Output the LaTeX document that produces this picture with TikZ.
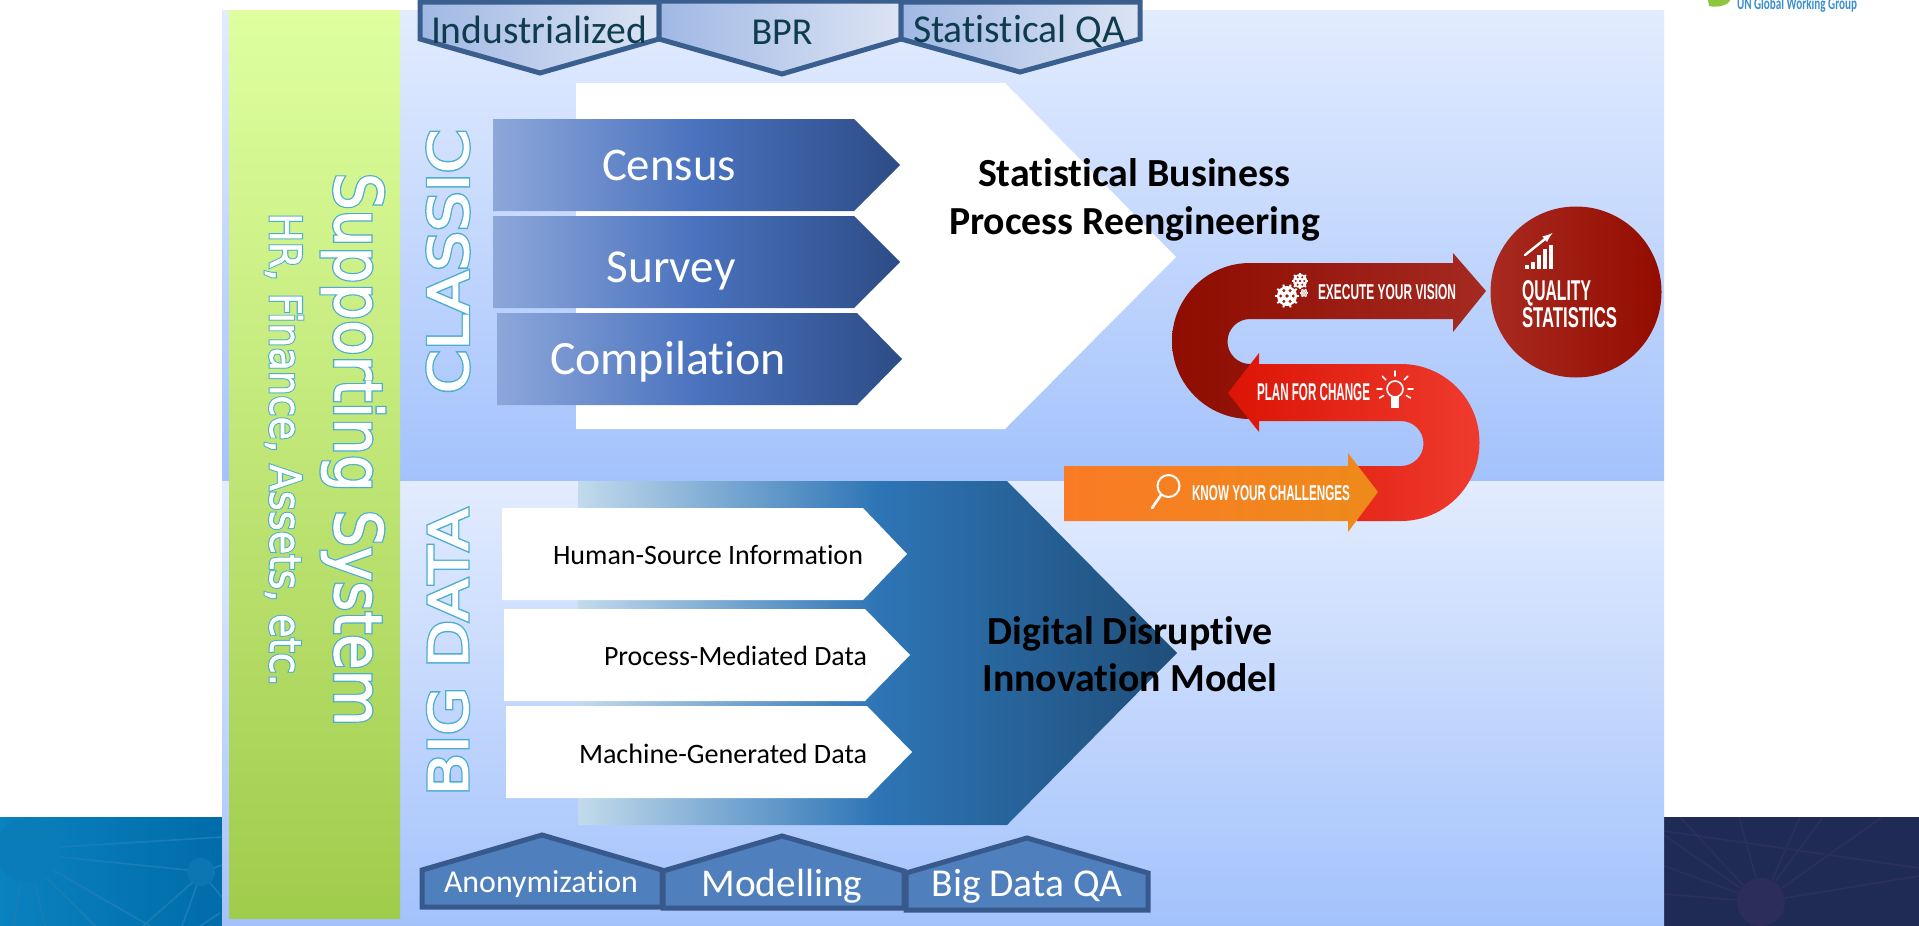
\documentclass[tikz,border=0pt]{standalone}
\usepackage{fontspec}
\usepackage{graphicx}
\setmainfont{Carlito}[Ligatures=NoCommon]
\newfontfamily\dej{DejaVu Sans}
\newfontfamily\lib{Liberation Sans}
\newcommand{\dc}[1]{\definecolor{#1}{HTML}{#1}}
\dc{0A82BF}\dc{006CA9}\dc{0A7DB9}\dc{0A77B3}\dc{1F2A55}\dc{2C2D58}\dc{8CC63F}\dc{3B8FD0}\dc{DFFF9F}\dc{A0CC4C}\dc{C2DAEC}\dc{2E75B6}\dc{1F4E79}\dc{8E0C00}\dc{A52A22}\dc{DC1405}\dc{EE3B2E}\dc{FA7B26}\dc{EE8A1A}\dc{A82A20}\dc{940C00}\dc{9A1C12}\dc{0F3B4E}
\dc{A0B8E4}\dc{DCE4F4}
\definecolor{panT}{HTML}{E3ECFE}
\definecolor{panB}{HTML}{A3C2FC}
\definecolor{navyline}{HTML}{3A5F8F}
\definecolor{B4F7FBC}{HTML}{4F7FBC}
\definecolor{B38598C}{HTML}{38598C}
\definecolor{B8DA7DA}{HTML}{8DA7DA}
\definecolor{B4A72BE}{HTML}{4A72BE}
\definecolor{B2D4C86}{HTML}{2D4C86}
\definecolor{LBL}{HTML}{1A7DB6}
\definecolor{RBL}{HTML}{2C2F5C}
\newcommand{\outl}[3]{\rlap{\special{pdf:code q 2 Tr #1 w .286 .682 .812 RG .286 .682 .812 rg}#3\special{pdf:code Q}}\special{pdf:code q 2 Tr #2 w 1 1 1 RG 1 1 1 rg}#3\special{pdf:code Q}}
\newcommand{\fitw}[3][40]{\resizebox{#2pt}{!}{\fontsize{#1}{#1}\selectfont #3}}
\newcommand{\fitb}[3]{\resizebox{#1pt}{#2pt}{\lib\bfseries\fontsize{20}{20}\selectfont #3}}
\tikzset{
  panel/.style={top color=panT,bottom color=panB,draw=none},
  lbl/.style={inner sep=0pt,outer sep=0pt,anchor=center},
  topshape/.style={left color=A0B8E4,right color=DCE4F4,draw=navyline,line width=5pt,line join=miter},
  botshape/.style={fill=B4F7FBC,draw=B38598C,line width=5pt,line join=miter},
  bluearrow/.style={left color=B8DA7DA,right color=B2D4C86,middle color=B4A72BE,draw=none},
  whitearrow/.style={fill=white,draw=none},
  iconl/.style={draw=white,line width=2pt,line cap=round},
  bgl/.style={draw=LBL,line width=1.6pt},
  bgr/.style={draw=RBL,line width=1.6pt},
}
\begin{document}
\begin{tikzpicture}[x=1pt,y=-1pt]
\useasboundingbox (0,0) rectangle (1919,926);
\fill[white] (0,0) rectangle (1919,926);
% corner pictures
\begin{scope}
\clip (0,817) rectangle (222,926);
\shade[left color=0A82BF,right color=006CA9] (0,817) rectangle (222,926);
\fill[0A7DB9] (28,850) circle[radius=32pt];
\fill[0A77B3] (201,872) circle[radius=14pt];
\draw[bgl] (60,847)--(222,837); \draw[bgl] (60,857)--(187,870);
\draw[bgl] (53,870)--(150,926); \draw[bgl] (47,878)--(95,926);
\draw[bgl] (35,883)--(45,926); \draw[bgl] (20,885)--(14,926);
\draw[bgl] (193,882)--(143,926); \draw[bgl] (197,885)--(182,926);
\draw[bgl] (210,883)--(222,897); \draw[bgl] (220,913)--(200,926);
\draw[bgl] (213,868)--(222,865);
\end{scope}
\begin{scope}
\clip (1664,817) rectangle (1919,926);
\fill[1F2A55] (1664,817) rectangle (1919,926);
\draw[bgr] (1664,831)--(1919,868); \draw[bgr] (1680,817)--(1743,885);
\draw[bgr] (1664,835)--(1740,888); \draw[bgr] (1664,866)--(1738,893);
\draw[bgr] (1664,894)--(1737,900); \draw[bgr] (1739,817)--(1756,878);
\draw[bgr] (1800,817)--(1772,880); \draw[bgr] (1823,817)--(1775,882);
\draw[bgr] (1882,817)--(1782,888); \draw[bgr] (1785,898)--(1919,876);
\fill[2C2D58] (1761,902) circle[radius=24pt];
\end{scope}
% logo
\fill[8CC63F] (1708,0) -- (1730,0) .. controls (1729,5) and (1718,8) .. (1709,6) -- cycle;
\node[lbl,text=3B8FD0] (logo) at (1797,5) {\resizebox{120pt}{12pt}{\bfseries UN Global Working Group}};
% panels
\path[panel] (222,10) rectangle (1664,481);
\path[panel] (222,481) rectangle (1664,926);
\path[top color=DFFF9F,bottom color=A0CC4C] (229,10) rectangle (400,918);
% classic big arrow
\fill[white] (576,83) -- (1005,83) -- (1176,257) -- (1005,429) -- (576,429) -- cycle;
\path[bluearrow] (493,119) -- (854,119) -- (900,165) -- (854,211) -- (493,211) -- cycle;
\path[bluearrow] (493,216) -- (854,216) -- (900,262) -- (854,308) -- (493,308) -- cycle;
\path[bluearrow] (497,313) -- (857,313) -- (902,359) -- (857,405) -- (497,405) -- cycle;
% big data big arrow
\path[left color=C2DAEC,right color=1F4E79,middle color=2E75B6] (578,481) -- (1007,481) -- (1177,653) -- (1007,825) -- (578,825) -- cycle;
\path[whitearrow] (502,508) -- (863,508) -- (907,554) -- (863,600) -- (502,600) -- cycle;
\path[whitearrow] (504,609) -- (865,609) -- (910,655) -- (865,701) -- (504,701) -- cycle;
\path[whitearrow] (506,706) -- (867,706) -- (912,752) -- (867,798) -- (506,798) -- cycle;
% top pentagons
\path[topshape] (420,2) -- (659,2) -- (659,39) -- (540,73) -- (420,39) -- cycle;
\path[topshape] (659,1) -- (901,1) -- (901,39) -- (782,74) -- (659,39) -- cycle;
\path[topshape] (901,2) -- (1140,2) -- (1140,39) -- (1020,72) -- (901,39) -- cycle;
% bottom houses
\path[botshape] (422,907) -- (422,870) -- (542,835) -- (662,870) -- (662,907) -- cycle;
\path[botshape] (663,908) -- (663,871) -- (782,836) -- (904,871) -- (904,908) -- cycle;
\path[botshape] (906,910) -- (906,873) -- (1027,838) -- (1148,873) -- (1148,910) -- cycle;
% S band
\path[left color=8E0C00,right color=A52A22] (1453,263) -- (1250,263) arc[start angle=90,end angle=270,radius=78pt] -- (1250,364) arc[start angle=270,end angle=90,radius=22.5pt] -- (1453,319) -- (1453,332) -- (1486,291) -- (1453,253) -- cycle;
\path[left color=DC1405,right color=EE3B2E] (1401,364) arc[start angle=90,end angle=-90,radius=78.5pt] -- (1357,521) -- (1357,466) -- (1401,466) arc[start angle=-90,end angle=90,radius=22.5pt] -- (1259,421) -- (1259,432) -- (1228,393) -- (1259,353) -- (1259,364) -- cycle;
\path[left color=FA7B26,right color=EE8A1A] (1064,466) -- (1348,466) -- (1348,453) -- (1378,492) -- (1348,532) -- (1348,521) -- (1064,521) -- cycle;
\path[left color=A82A20,right color=940C00] (1576,292) circle[radius=85.5pt];
% gears
\foreach \cx/\cy/\r/\n in {1287/296/10/10,1300/281/7/8,1304/293/3.5/6}{
  \begin{scope}[shift={(\cx,\cy)}]
    \fill[white] (0,0) circle[radius=\r pt];
    \foreach \k in {1,...,\n}{\draw[white,line width=2pt] (360*\k/\n:\r*0.8) -- (360*\k/\n:\r*1.2);}
    \foreach \k in {1,...,6}{\fill[9A1C12] (60*\k:\r*0.62) circle[radius=\r*0.16pt];}
    \fill[9A1C12] (0,0) circle[radius=\r*0.18pt];
  \end{scope}}
% bulb
\draw[iconl,line width=1.6pt] (1395,389) circle[radius=8pt];
\fill[white] (1391,397) rectangle (1399,408);
\foreach \a in {-90,-45,-135,0,180,30,150}{
  \draw[iconl,line width=1.5pt] ([shift={(\a:13)}]1395,389) -- ([shift={(\a:18)}]1395,389);}
% magnifier
\draw[iconl] (1168.5,486) circle[radius=11pt];
\draw[iconl,line width=2.6pt] (1161,495) -- (1152,508);
% chart
\foreach \bx/\by in {1527/265,1533/262,1539/255,1545/249,1551/245}{
  \fill[white] (\bx-2.2,\by) rectangle (\bx+2.2,269);}
\draw[iconl,line width=2.4pt,-latex] (1525,255) -- (1552.5,233);
% texts
\node[lbl,text=0F3B4E] (t1) at (539,30) {\fitw{216}{Industrialized}};
\node[lbl,text=0F3B4E] (t2) at (782,32) {\fitw{61}{BPR}};
\node[lbl,text=0F3B4E] (t3) at (1019,31) {\fitw{212}{Statistical QA}};
\node[lbl,text=white] (c1) at (669,165) {\fitw{134}{Census}};
\node[lbl,text=white] (c2) at (671,270.5) {\fitw{129}{Survey}};
\node[lbl,text=white] (c3) at (668,361.5) {\fitw{236}{Compilation}};
\node[lbl] (sb1) at (1134,173) {\fitw{312}{\bfseries Statistical Business}};
\node[lbl] (sb2) at (1134.5,224) {\fitw{371}{\bfseries Process Reengineering}};
\node[lbl] (d1) at (1130,634) {\fitw{285}{\bfseries Digital Disruptive}};
\node[lbl] (d2) at (1130,678) {\fitw{295}{\bfseries Innovation Model}};
\node[lbl] (h1) at (708,555) {\fitw{310}{Human-Source Information}};
\node[lbl] (h2) at (735.5,656) {\fitw{263}{Process-Mediated Data}};
\node[lbl] (h3) at (723,754) {\fitw{288}{Machine-Generated Data}};
\node[lbl,text=white] (b1) at (541,884) {\fitw{194}{Anonymization}};
\node[lbl,text=white] (b2) at (782,886) {\fitw{161}{Modelling}};
\node[lbl,text=white] (b3) at (1027,886) {\fitw{191}{Big Data QA}};
% outlined
\node[lbl,rotate=90] (classic) at (448,261.5) {\resizebox{264pt}{41pt}{\dej\fontsize{60}{60}\selectfont\outl{4.2}{1.4}{CLASSIC}}};
\node[lbl,rotate=90] (bigdata) at (448,652) {\resizebox{287pt}{40pt}{\dej\fontsize{60}{60}\selectfont\outl{4.2}{1.4}{BIG DATA}}};
\node[lbl,rotate=-90] (sup) at (353,449.5) {\resizebox{553pt}{50pt}{\dej\fontsize{60}{60}\selectfont\outl{3.4}{1}{Supporting System}}};
\node[lbl,rotate=-90] (hr) at (284,449.5) {\resizebox{473pt}{33pt}{\dej\fontsize{38}{38}\selectfont\outl{2.4}{.5}{HR, Finance, Assets, etc.}}};
% band texts
\node[lbl,text=white] (e1) at (1387,292) {\fitb{138}{15}{EXECUTE YOUR VISION}};
\node[lbl,text=white] (e2) at (1313.5,392) {\fitb{113}{17}{PLAN FOR CHANGE}};
\node[lbl,text=white] (e3) at (1271,493) {\fitb{158}{15}{KNOW YOUR CHALLENGES}};
\node[lbl,text=white,anchor=west] (q1) at (1522,293) {\fitb{69}{20}{QUALITY}};
\node[lbl,text=white,anchor=west] (q2) at (1522,318) {\fitb{95}{20}{STATISTICS}};
\end{tikzpicture}
\end{document}
